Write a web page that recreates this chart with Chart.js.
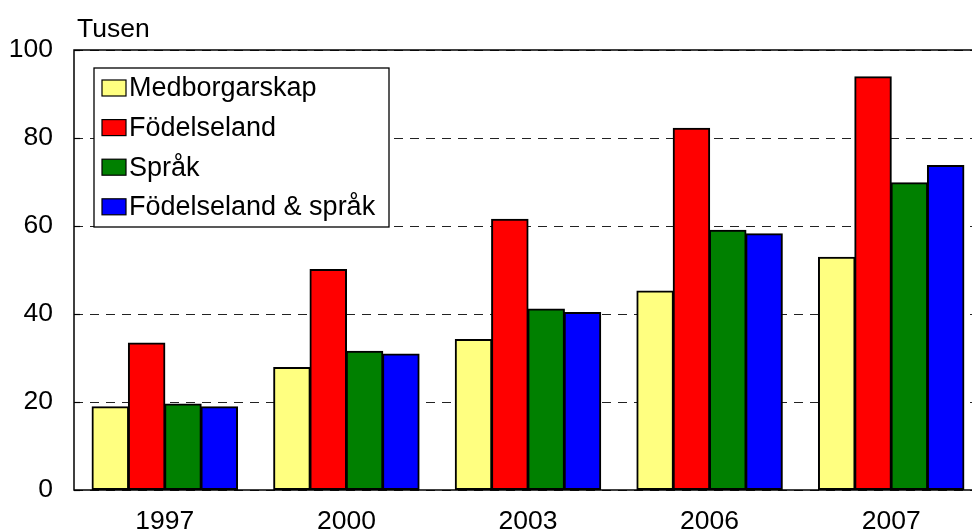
<!DOCTYPE html>
<html>
<head>
<meta charset="utf-8">
<script src="https://cdn.jsdelivr.net/npm/chart.js@4"></script>
<style>
  html, body { margin: 0; padding: 0; background: #fff; overflow: hidden; }
  #wrap { width: 985px; height: 532px; }
</style>
</head>
<body>
<div id="wrap"><canvas id="chart"></canvas></div>
<script>
// Data (thousands)
const years = ["1997", "2000", "2003", "2006", "2007"];
const medborgarskap = [18.9, 27.8, 34.2, 45.2, 52.9];
const fodelseland = [33.4, 50.1, 61.5, 82.2, 93.9];
const sprak = [19.5, 31.5, 41.1, 59.0, 69.8];
const fodelselandSprak = [18.9, 30.9, 40.3, 58.2, 73.7];
const yTicks = [0, 20, 40, 60, 80, 100];

const FONT = "'Liberation Sans', Arial, Helvetica, sans-serif";

// Frame around the plot + "Tusen" label + legend box inside the plot
const extras = {
  id: "extras",
  afterDraw(chart) {
    const { ctx, chartArea } = chart;
    ctx.save();
    ctx.strokeStyle = "#000";
    ctx.lineWidth = 1.5;
    ctx.strokeRect(chartArea.left, chartArea.top, chartArea.right - chartArea.left, chartArea.bottom - chartArea.top);

    // small solid ticks on the inside of the y axis
    const y = chart.scales.y;
    ctx.lineWidth = 1.2;
    yTicks.forEach((v) => {
      const py = Math.round(y.getPixelForValue(v)) + 0.5;
      ctx.beginPath();
      ctx.moveTo(chartArea.left, py);
      ctx.lineTo(chartArea.left + 6, py);
      ctx.stroke();
    });

    ctx.fillStyle = "#000";
    ctx.font = "26.5px " + FONT;
    ctx.textAlign = "left";
    ctx.textBaseline = "alphabetic";
    ctx.fillText("Tusen", 77, 37);

    // legend
    const lx = 94, ly = 68, lw = 295, lh = 159;
    ctx.fillStyle = "#fff";
    ctx.fillRect(lx, ly, lw, lh);
    ctx.strokeStyle = "#000";
    ctx.lineWidth = 1.3;
    ctx.strokeRect(lx, ly, lw, lh);
    ctx.font = "27px " + FONT;
    ctx.textBaseline = "middle";
    chart.data.datasets.forEach((ds, i) => {
      const cy = 88 + i * 39.6;
      ctx.fillStyle = ds.backgroundColor;
      ctx.fillRect(102, cy - 8, 24, 16);
      ctx.strokeStyle = "#000";
      ctx.lineWidth = 1.2;
      ctx.strokeRect(102, cy - 8, 24, 16);
      ctx.fillStyle = "#000";
      ctx.fillText(ds.label, 129, cy + 1);
    });
    ctx.restore();
  }
};

const barStyle = { borderColor: "#000", borderWidth: 2, borderSkipped: false, inflateAmount: 0.6 };

new Chart(document.getElementById("chart"), {
  type: "bar",
  data: {
    labels: years,
    datasets: [
      { label: "Medborgarskap", data: medborgarskap, backgroundColor: "#ffff80", ...barStyle },
      { label: "Födelseland", data: fodelseland, backgroundColor: "#ff0000", ...barStyle },
      { label: "Språk", data: sprak, backgroundColor: "#008000", ...barStyle },
      { label: "Födelseland & språk", data: fodelselandSprak, backgroundColor: "#0000ff", ...barStyle },
    ],
  },
  options: {
    responsive: true,
    maintainAspectRatio: false,
    animation: false,
    layout: { padding: { top: 50, right: 3, left: 0, bottom: 0 } },
    datasets: { bar: { categoryPercentage: 0.8, barPercentage: 1.0 } },
    plugins: { legend: { display: false }, tooltip: { enabled: false } },
    scales: {
      x: {
        grid: { display: false },
        border: { display: false },
        ticks: { color: "#000", font: { family: FONT, size: 26.5 }, padding: 8, maxRotation: 0 },
        afterFit(scale) { scale.height = 42; },
      },
      y: {
        min: 0,
        max: 100,
        afterBuildTicks(scale) { scale.ticks = yTicks.map((v) => ({ value: v })); },
        grid: { color: "#222", lineWidth: 1, drawTicks: false },
        border: { display: false, dash: [9, 7] },
        ticks: { color: "#000", font: { family: FONT, size: 26.5 }, padding: 21 },
        afterFit(scale) { scale.width = 74; },
      },
    },
  },
  plugins: [extras],
});
</script>
</body>
</html>
